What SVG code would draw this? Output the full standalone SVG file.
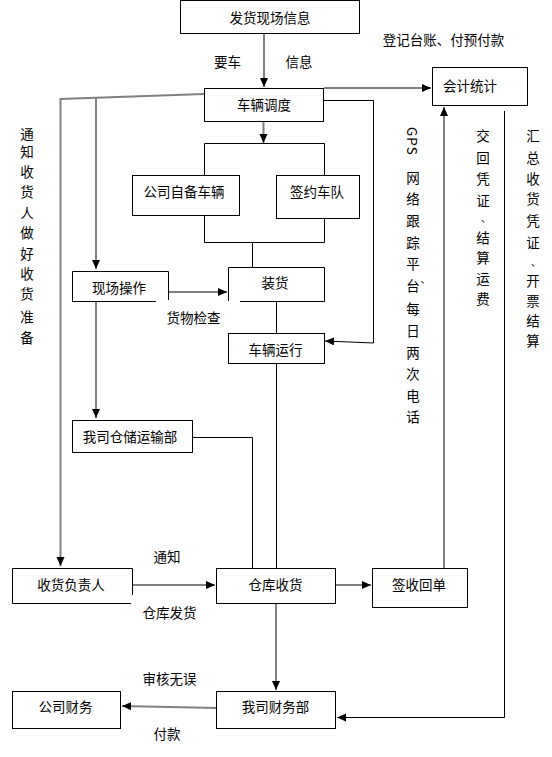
<svg xmlns="http://www.w3.org/2000/svg" width="552" height="757" viewBox="0 0 552 757">
<style>
text{font-family:"Noto Sans CJK SC","Noto Sans CJK JP",sans-serif;font-size:13.5px;fill:#000}
.c{text-anchor:middle;dominant-baseline:central}
.dun{font-size:10px}
.box{fill:#fff;stroke:#000;stroke-width:1}
.g{fill:none;stroke:#808080;stroke-width:2}
.k{fill:none;stroke:#000;stroke-width:1}
</style>
<defs>
<marker id="ah" markerUnits="userSpaceOnUse" markerWidth="10" markerHeight="10" refX="9" refY="4" orient="auto">
<path d="M0,0 L9,4 L0,8 Z" fill="#000"/>
</marker>
</defs>
<rect width="552" height="757" fill="#fff"/>
<g id="connectors">
<path class="g" d="M264,34 V87" marker-end="url(#ah)"/>
<path class="g" d="M324,88 H431" marker-end="url(#ah)"/>
<path class="g" d="M204,94 L60.5,99 V566" marker-end="url(#ah)"/>
<path class="g" d="M96,98 V269" marker-end="url(#ah)"/>
<path class="g" d="M263.5,122 V143" marker-end="url(#ah)"/>
<path class="k" d="M204.5,175 V143.5 H324.5 V175"/>
<path class="k" d="M204.5,216 V242.5 H324.5 V219"/>
<path class="k" d="M252.5,242 V267"/>
<path class="k" d="M168,292 H227" marker-end="url(#ah)"/>
<path class="k" d="M276.5,302 V333"/>
<path class="k" d="M324,100.5 H373.5 V343 L325,341" marker-end="url(#ah)"/>
<path class="g" d="M96,302 V418" marker-end="url(#ah)"/>
<path class="k" d="M192,437.5 H252.5 V568"/>
<path class="k" d="M276.5,364 V568"/>
<path class="g" d="M132,585 H215" marker-end="url(#ah)"/>
<path class="g" d="M336,585 H371" marker-end="url(#ah)"/>
<path class="g" d="M444,568 V107" marker-end="url(#ah)"/>
<path class="g" d="M276,604 V690" marker-end="url(#ah)"/>
<path class="g" d="M216,708 L122,706" marker-end="url(#ah)"/>
<path class="k" d="M504.5,111 V717.5 H337" marker-end="url(#ah)"/>
</g>
<g id="n-fahuo"><rect class="box" x="180.5" y="0.5" width="179" height="33"/><text class="c" x="270" y="17">发货现场信息</text></g>
<g id="n-diaodu"><rect class="box" x="204.5" y="88.5" width="119" height="33"/><text class="c" x="264" y="104">车辆调度</text></g>
<g id="n-kuaiji"><rect class="box" x="432.5" y="67.5" width="95" height="38"/><text x="443" y="84.5" dominant-baseline="central">会计统计</text></g>
<g id="n-zibei"><rect class="box" x="132.5" y="175.5" width="107" height="40"/><text class="c" x="184" y="191">公司自备车辆</text></g>
<g id="n-qianyue"><rect class="box" x="276.5" y="175.5" width="83" height="43"/><text class="c" x="317" y="191">签约车队</text></g>
<g id="n-xianchang"><path class="k" d="M156,301.5 H72.5 V271.5 H168.5 V300"/><text class="c" x="119" y="287">现场操作</text></g>
<g id="n-zhuanghuo"><path class="k" d="M228.5,301 V267.5 H324.5 V301.5 H240"/><text class="c" x="275" y="282">装货</text></g>
<g id="n-yunxing"><rect class="box" x="228.5" y="333.5" width="96" height="30"/><text class="c" x="275.5" y="349">车辆运行</text></g>
<g id="n-cangchu"><rect class="box" x="72.5" y="420.5" width="120" height="32"/><text class="c" x="130" y="436">我司仓储运输部</text></g>
<g id="n-shouhuo"><path class="k" d="M131,603.5 H12.5 V568.5 H132.5 V595"/><text class="c" x="71" y="584">收货负责人</text></g>
<g id="n-cangku"><rect class="box" x="216.5" y="568.5" width="119" height="35"/><text class="c" x="275.5" y="584">仓库收货</text></g>
<g id="n-qianshou"><rect class="box" x="372.5" y="568.5" width="95" height="39"/><text class="c" x="419" y="584">签收回单</text></g>
<g id="n-gongsicaiwu"><rect class="box" x="12.5" y="691.5" width="108" height="37"/><text class="c" x="65.5" y="705.5">公司财务</text></g>
<g id="n-wosicaiwu"><rect class="box" x="216.5" y="691.5" width="119" height="37"/><text class="c" x="275.5" y="705.5">我司财务部</text></g>
<g id="labels">
<text class="c" x="443.5" y="38.5">登记台账、付预付款</text>
<text class="c" x="227.5" y="61">要车</text>
<text class="c" x="299" y="61">信息</text>
<text class="c" x="193.5" y="317">货物检查</text>
<text class="c" x="167" y="556">通知</text>
<text class="c" x="169.5" y="612">仓库发货</text>
<text class="c" x="169.5" y="678">审核无误</text>
<text class="c" x="167" y="733">付款</text>
<text class="c">
<tspan x="27" y="133">通</tspan><tspan x="27" y="151">知</tspan><tspan x="27" y="171">收</tspan><tspan x="27" y="191">货</tspan><tspan x="27" y="212">人</tspan><tspan x="27" y="232">做</tspan><tspan x="27" y="253">好</tspan><tspan x="27" y="273">收</tspan><tspan x="27" y="293">货</tspan><tspan x="27" y="316">准</tspan><tspan x="27" y="337">备</tspan>
</text>
<text x="413" y="127" writing-mode="tb" style="letter-spacing:1px">GPS</text>
<text class="c">
<tspan x="413" y="177">网</tspan><tspan x="413" y="198">络</tspan><tspan x="413" y="220">跟</tspan><tspan x="413" y="242">踪</tspan><tspan x="413" y="263">平</tspan><tspan x="413" y="285">台</tspan><tspan x="413" y="308">每</tspan><tspan x="413" y="330">日</tspan><tspan x="413" y="352">两</tspan><tspan x="413" y="373">次</tspan><tspan x="413" y="395">电</tspan><tspan x="413" y="416">话</tspan>
</text>
<text class="c dun" x="425.5" y="278">、</text>
<text class="c">
<tspan x="483" y="135">交</tspan><tspan x="483" y="157">回</tspan><tspan x="483" y="178">凭</tspan><tspan x="483" y="200">证</tspan><tspan x="483" y="237">结</tspan><tspan x="483" y="257">算</tspan><tspan x="483" y="278">运</tspan><tspan x="483" y="298">费</tspan>
</text>
<text class="c dun" x="486" y="217">、</text>
<text class="c">
<tspan x="533" y="135">汇</tspan><tspan x="533" y="157">总</tspan><tspan x="533" y="178">收</tspan><tspan x="533" y="198">货</tspan><tspan x="533" y="220">凭</tspan><tspan x="533" y="242">证</tspan><tspan x="533" y="280">开</tspan><tspan x="533" y="300">票</tspan><tspan x="533" y="320">结</tspan><tspan x="533" y="340">算</tspan>
</text>
<text class="c dun" x="536" y="261">、</text>
</g>
</svg>
